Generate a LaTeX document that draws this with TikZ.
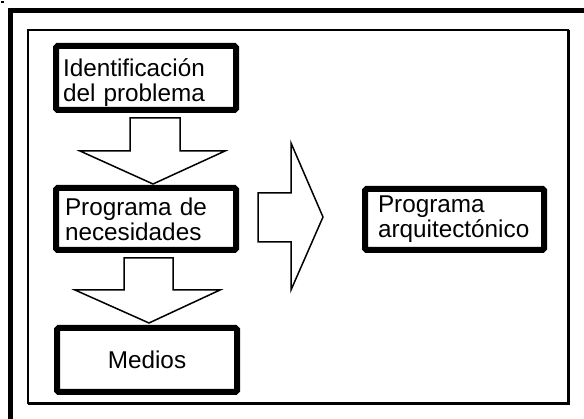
\documentclass[tikz,border=0pt]{standalone}
\usepackage{fontspec}
\setmainfont{Liberation Sans}
\begin{document}
\begin{tikzpicture}[x=1pt,y=-1pt,
  boxnode/.style={draw=black, line width=6pt, rounded corners=1.5pt, fill=white,
     font=\fontsize{24.3}{25}\selectfont, align=left, inner xsep=0pt, inner ysep=0pt, anchor=center},
  blockarrow/.style={draw=black, line width=1.5pt, fill=white, line join=miter}]
\useasboundingbox (0,0) rectangle (584,419);
\clip (0,0) rectangle (584,419);
\fill[white] (0,0) rectangle (584,419);
% speck
\fill[black] (1,1) rectangle (3.5,3.5);
% outer frame
\draw[line width=5pt] (10.5,430) -- (10.5,10.5) -- (600,10.5);
% inner frame
\draw[line width=1.5pt] (28,30) rectangle (568,403);
\draw[line width=2.5pt] (568.5,30) -- (568.5,403.5) -- (28,403.5);
% boxes
\node[boxnode, minimum width=180pt, minimum height=64pt, text width=166pt] (idp) at (146,78) {\rule{0pt}{28pt}Identificaci\'on\\del problema};
\node[boxnode, minimum width=180pt, minimum height=62pt, text width=162pt] (pnec) at (146,219) {Programa de\\necesidades};
\node[boxnode, minimum width=180pt, minimum height=64pt, align=center] (med) at (147,360) {Medios};
\node[boxnode, minimum width=179pt, minimum height=61pt, text width=153pt] (parq) at (454.5,219.5) {Programa\\arquitect\'onico};
% block arrows
\draw[blockarrow] (130,118) -- (180,118) -- (180,151) -- (225,151) -- (153,184) -- (80,151) -- (130,151) -- cycle;
\draw[blockarrow] (124,258) -- (173,258) -- (173,290) -- (220,290) -- (149,323) -- (75,290) -- (124,290) -- cycle;
\draw[blockarrow] (258,193) -- (291,193) -- (291,143) -- (323,217) -- (291,290) -- (291,242) -- (258,242) -- cycle;
\end{tikzpicture}
\end{document}
